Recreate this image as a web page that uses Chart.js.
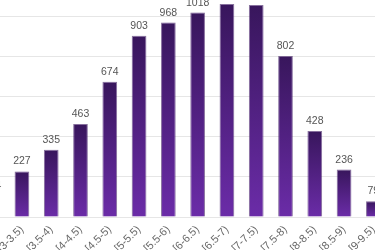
<!DOCTYPE html>
<html>
<head>
<meta charset="utf-8">
<script src="https://cdn.jsdelivr.net/npm/chart.js@4/dist/chart.umd.min.js"></script>
<style>
  html, body { margin: 0; padding: 0; width: 375px; height: 250px; overflow: hidden; background: #ffffff; }
  #wrap { position: absolute; left: -22px; top: -24px; width: 410px; height: 281px; }
</style>
</head>
<body>
<div id="wrap"><canvas id="c" width="410" height="281"></canvas></div>
<script>
const categories = ['[2.5-3)', '[3-3.5)', '[3.5-4)', '[4-4.5)', '[4.5-5)', '[5-5.5)', '[5.5-6)', '[6-6.5)', '[6.5-7)', '[7-7.5)', '[7.5-8)', '[8-8.5)', '[8.5-9)', '[9-9.5)'];
const counts = [104, 227, 335, 463, 674, 903, 968, 1018, 1060, 1055, 802, 428, 236, 79];
const yMax = 1200;
const yStep = 200;

const barGradient = (ctx) => {
  const chart = ctx.chart;
  const y = chart.scales.y;
  if (!y || !chart.chartArea || ctx.raw === undefined) return '#5a2490';
  const top = y.getPixelForValue(ctx.raw);
  const base = y.getPixelForValue(0);
  if (!isFinite(top) || !isFinite(base) || top === base) return '#5a2490';
  const g = chart.ctx.createLinearGradient(0, top, 0, base);
  g.addColorStop(0, '#38165c');
  g.addColorStop(1, '#6b2ca8');
  return g;
};

const shadowPlugin = {
  id: 'barShadow',
  beforeDatasetsDraw(chart) {
    const c = chart.ctx;
    c.save();
    c.shadowColor = 'rgba(120, 60, 180, 0.35)';
    c.shadowBlur = 4;
    c.shadowOffsetX = 0;
    c.shadowOffsetY = 0;
  },
  afterDatasetsDraw(chart) {
    chart.ctx.restore();
  }
};

const valueLabels = {
  id: 'valueLabels',
  afterDatasetsDraw(chart) {
    const c = chart.ctx;
    const meta = chart.getDatasetMeta(0);
    c.save();
    c.font = '10.5px "Liberation Sans", Arial, sans-serif';
    c.fillStyle = '#555555';
    c.textAlign = 'center';
    c.textBaseline = 'alphabetic';
    meta.data.forEach((bar, i) => {
      c.fillText(String(counts[i]), bar.x, bar.y - 7);
    });
    c.restore();
  }
};

new Chart(document.getElementById('c'), {
  type: 'bar',
  data: {
    labels: categories,
    datasets: [{
      data: counts,
      backgroundColor: barGradient,
      borderColor: 'rgba(45, 15, 75, 0.55)',
      borderWidth: 1,
      barPercentage: 0.5,
      categoryPercentage: 1.0
    }]
  },
  options: {
    responsive: false,
    animation: false,
    devicePixelRatio: 1,
    layout: { padding: 0 },
    plugins: {
      legend: { display: false },
      tooltip: { enabled: false },
      title: { display: false }
    },
    scales: {
      x: {
        grid: { display: false, drawTicks: false },
        border: { display: false },
        ticks: {
          color: '#666666',
          font: { family: '"Liberation Sans", Arial, sans-serif', size: 11 },
          minRotation: 45,
          maxRotation: 45,
          autoSkip: false,
          padding: 6
        },
        afterFit(scale) {
          scale.height = 40;
          scale.paddingLeft = 0;
          scale.paddingRight = 0;
        }
      },
      y: {
        min: 0,
        max: yMax,
        ticks: { display: false, stepSize: yStep },
        grid: { color: '#e6e6e6', lineWidth: 1, drawTicks: false },
        border: { display: false },
        afterFit(scale) {
          scale.width = 0;
          scale.paddingTop = 0;
          scale.paddingBottom = 0;
        }
      }
    }
  },
  plugins: [shadowPlugin, valueLabels]
});
</script>
</body>
</html>
